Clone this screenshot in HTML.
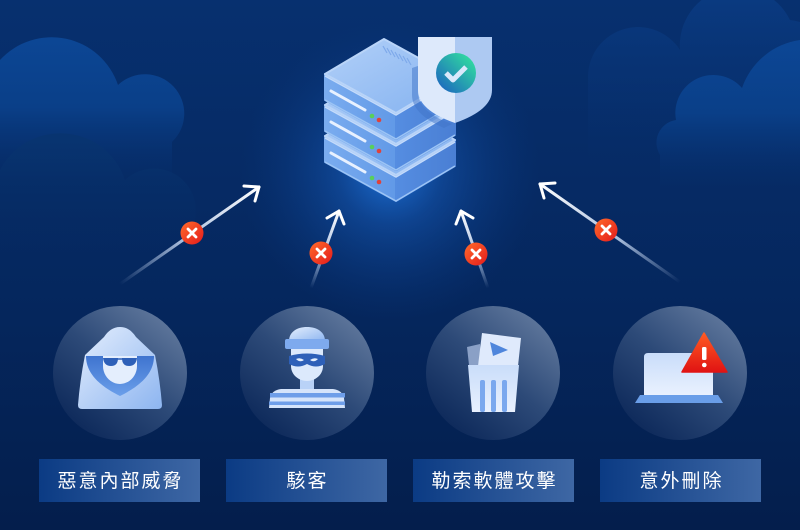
<!DOCTYPE html>
<html><head><meta charset="utf-8"><style>
html,body{margin:0;padding:0;background:#052456;}
svg{display:block;}
.lbl{font-family:"Liberation Sans","Noto Sans CJK TC",sans-serif;font-size:19px;fill:#ffffff;letter-spacing:2px;}
</style></head><body>
<svg width="800" height="530" viewBox="0 0 800 530" xmlns="http://www.w3.org/2000/svg">
<defs>
<linearGradient id="bg" x1="0" y1="0" x2="0" y2="1">
<stop offset="0" stop-color="#07306f"/><stop offset="0.55" stop-color="#05275e"/><stop offset="1" stop-color="#041e4c"/>
</linearGradient>
<radialGradient id="glow" cx="390" cy="172" r="150" gradientUnits="userSpaceOnUse">
<stop offset="0" stop-color="#1e74dc" stop-opacity="0.95"/><stop offset="0.35" stop-color="#1558b4" stop-opacity="0.55"/><stop offset="1" stop-color="#0a3a85" stop-opacity="0"/>
</radialGradient>
<linearGradient id="cloudLF" gradientUnits="userSpaceOnUse" x1="0" y1="30" x2="0" y2="185">
<stop offset="0" stop-color="#0c4796"/><stop offset="0.5" stop-color="#0a3f88"/><stop offset="1" stop-color="#07306f" stop-opacity="0"/>
</linearGradient>
<linearGradient id="cloudLB" gradientUnits="userSpaceOnUse" x1="0" y1="125" x2="0" y2="260">
<stop offset="0" stop-color="#083571"/><stop offset="1" stop-color="#062a62" stop-opacity="0"/>
</linearGradient>
<linearGradient id="cloudRF" gradientUnits="userSpaceOnUse" x1="0" y1="36" x2="0" y2="190">
<stop offset="0" stop-color="#0c4796"/><stop offset="0.5" stop-color="#0a3f88"/><stop offset="1" stop-color="#07306f" stop-opacity="0"/>
</linearGradient>
<linearGradient id="cloudRB" gradientUnits="userSpaceOnUse" x1="0" y1="0" x2="0" y2="160">
<stop offset="0" stop-color="#0a3a80"/><stop offset="1" stop-color="#07306f" stop-opacity="0"/>
</linearGradient>
<linearGradient id="circ" x1="0.85" y1="0.1" x2="0.2" y2="0.9">
<stop offset="0" stop-color="#5e769b"/><stop offset="0.5" stop-color="#2d4a78"/><stop offset="1" stop-color="#0f2b5c"/>
</linearGradient>
<linearGradient id="box" x1="0" y1="0" x2="1" y2="0">
<stop offset="0" stop-color="#0b3b84"/><stop offset="1" stop-color="#3e67a4"/>
</linearGradient>
<linearGradient id="top" x1="0" y1="0" x2="1" y2="1">
<stop offset="0" stop-color="#b2d0f8"/><stop offset="1" stop-color="#84b2f0"/>
</linearGradient>
<linearGradient id="lf" x1="0" y1="0" x2="1" y2="0">
<stop offset="0" stop-color="#7aacef"/><stop offset="1" stop-color="#6199e7"/>
</linearGradient>
<linearGradient id="rf" x1="0" y1="0" x2="1" y2="0">
<stop offset="0" stop-color="#558de1"/><stop offset="1" stop-color="#4a7fd4"/>
</linearGradient>
<linearGradient id="chk" x1="0" y1="1" x2="1" y2="0">
<stop offset="0" stop-color="#1a5bc2"/><stop offset="1" stop-color="#34eb9c"/>
</linearGradient>
<linearGradient id="red" x1="0" y1="0" x2="1" y2="1">
<stop offset="0" stop-color="#ff6b2a"/><stop offset="1" stop-color="#e41a1c"/>
</linearGradient>
<linearGradient id="tri" x1="0" y1="0" x2="0" y2="1">
<stop offset="0" stop-color="#ff5b22"/><stop offset="1" stop-color="#e01313"/>
</linearGradient>
<linearGradient id="lt" x1="0" y1="0" x2="1" y2="1">
<stop offset="0" stop-color="#e4eefd"/><stop offset="1" stop-color="#8db5f0"/>
</linearGradient>
<linearGradient id="lt2" x1="0" y1="0" x2="0" y2="1">
<stop offset="0" stop-color="#c9ddfa"/><stop offset="1" stop-color="#e9f1fe"/>
</linearGradient>
<linearGradient id="dk" x1="0" y1="0" x2="0" y2="1">
<stop offset="0" stop-color="#3f74cf"/><stop offset="1" stop-color="#6b9fea"/>
</linearGradient>
<linearGradient id="a1" gradientUnits="userSpaceOnUse" x1="120" y1="284" x2="259" y2="187">
<stop offset="0" stop-color="#c8d9f3" stop-opacity="0"/><stop offset="0.45" stop-color="#c8d9f3" stop-opacity="0.85"/><stop offset="1" stop-color="#ffffff"/>
</linearGradient>
<linearGradient id="a2" gradientUnits="userSpaceOnUse" x1="311" y1="288" x2="339" y2="211">
<stop offset="0" stop-color="#c8d9f3" stop-opacity="0"/><stop offset="0.45" stop-color="#c8d9f3" stop-opacity="0.85"/><stop offset="1" stop-color="#ffffff"/>
</linearGradient>
<linearGradient id="a3" gradientUnits="userSpaceOnUse" x1="488" y1="288" x2="461" y2="211">
<stop offset="0" stop-color="#c8d9f3" stop-opacity="0"/><stop offset="0.45" stop-color="#c8d9f3" stop-opacity="0.85"/><stop offset="1" stop-color="#ffffff"/>
</linearGradient>
<linearGradient id="a4" gradientUnits="userSpaceOnUse" x1="680" y1="282" x2="540" y2="184">
<stop offset="0" stop-color="#c8d9f3" stop-opacity="0"/><stop offset="0.45" stop-color="#c8d9f3" stop-opacity="0.85"/><stop offset="1" stop-color="#ffffff"/>
</linearGradient>
<g id="slab">
<polygon points="325,74 396,113 396,139 325,100" fill="url(#lf)" stroke="url(#lf)" stroke-width="2" stroke-linejoin="round"/>
<polygon points="396,113 455,78 455,104 396,139" fill="url(#rf)" stroke="url(#rf)" stroke-width="2" stroke-linejoin="round"/>
<polygon points="325,74 384,39 455,78 396,113" fill="url(#top)" stroke="#b9d4f8" stroke-width="2" stroke-linejoin="round"/>
<polyline points="325,76 396,115 455,80" fill="none" stroke="#c4dbfb" stroke-width="1.5"/>
<polyline points="325,100 396,139 455,104" fill="none" stroke="#9cc4f5" stroke-width="1.5"/>
<line x1="331" y1="91" x2="365" y2="110" stroke="#e8f1ff" stroke-width="3" stroke-linecap="round"/>
<circle cx="372" cy="116" r="2.3" fill="#58d05a"/>
<circle cx="379" cy="120" r="2.3" fill="#e0413a"/>
</g>
</defs>

<rect width="800" height="530" fill="url(#bg)"/>

<!-- right back cloud -->
<path d="M588,160 L588,75 A50,50 0 0 1 680,50 A58,58 0 0 1 790,20 A50,50 0 0 1 800,22 L800,160 Z" fill="url(#cloudRB)"/>
<!-- left front cloud -->
<path d="M0,190 L0,60 A70,70 0 0 1 118,85 A34,34 0 0 1 172,142 L172,190 Z" fill="url(#cloudLF)"/>
<!-- left back cloud -->
<path d="M0,260 L0,170 A68,68 0 0 1 125,180 A42,42 0 0 1 188,235 L188,260 Z" fill="url(#cloudLB)"/>
<!-- right front cloud -->
<path d="M660,190 L660,155 A23,23 0 0 1 676,120 A38,38 0 0 1 742,88 A72,72 0 0 1 800,40 L800,190 Z" fill="url(#cloudRF)"/>

<!-- glow -->
<circle cx="390" cy="172" r="150" fill="url(#glow)"/>

<!-- server -->
<use href="#slab" transform="translate(0,62)"/>
<use href="#slab" transform="translate(0,31)"/>
<use href="#slab"/>
<g stroke="#7ea9ea" stroke-width="1.2">
<line x1="383" y1="46" x2="387" y2="53"/><line x1="387" y1="48" x2="391" y2="55"/><line x1="391" y1="50" x2="395" y2="57"/><line x1="395" y1="52" x2="399" y2="59"/><line x1="399" y1="54" x2="403" y2="61"/><line x1="403" y1="56" x2="407" y2="63"/><line x1="407" y1="58" x2="411" y2="65"/>
</g>
<!-- shield shadow -->
<path d="M412,68 L418,66 L418,92 Q418,112 452,124 L444,128 Q412,114 412,95 Z" fill="#3f73c8" opacity="0.5"/>
<!-- shield -->
<path d="M418,37 L455,37 L455,123 Q418,110 418,90 Z" fill="#dde9fb"/>
<path d="M455,37 L492,37 L492,90 Q492,110 455,123 Z" fill="#adc9f2"/>
<circle cx="456" cy="73" r="20" fill="url(#chk)"/>
<polyline points="446,73 453,80 466,67" fill="none" stroke="#d9e8fb" stroke-width="5" stroke-linejoin="round"/>

<!-- arrows -->
<g fill="none" stroke-width="3" stroke-linecap="round" stroke-linejoin="round">
<line x1="120" y1="284" x2="259" y2="187" stroke="url(#a1)"/>
<polyline points="244,186 259,187 255,201" stroke="#ffffff"/>
<line x1="311" y1="288" x2="339" y2="211" stroke="url(#a2)"/>
<polyline points="327,218 339,211 344,224" stroke="#ffffff"/>
<line x1="488" y1="288" x2="461" y2="211" stroke="url(#a3)"/>
<polyline points="456,224 461,211 473,218" stroke="#ffffff"/>
<line x1="680" y1="282" x2="540" y2="184" stroke="url(#a4)"/>
<polyline points="544,198 540,184 555,183" stroke="#ffffff"/>
</g>
<!-- badges -->
<g>
<circle cx="192" cy="233" r="11.5" fill="url(#red)"/>
<circle cx="321" cy="253" r="11.5" fill="url(#red)"/>
<circle cx="476" cy="254" r="11.5" fill="url(#red)"/>
<circle cx="606" cy="230" r="11.5" fill="url(#red)"/>
</g>
<g stroke="#ffffff" stroke-width="2.8" stroke-linecap="round">
<path d="M188,229 L196,237 M196,229 L188,237"/>
<path d="M317,249 L325,257 M325,249 L317,257"/>
<path d="M472,250 L480,258 M480,250 L472,258"/>
<path d="M602,226 L610,234 M610,226 L602,234"/>
</g>

<!-- circles -->
<circle cx="120" cy="373" r="67" fill="url(#circ)"/>
<circle cx="307" cy="373" r="67" fill="url(#circ)"/>
<circle cx="493" cy="373" r="67" fill="url(#circ)"/>
<circle cx="680" cy="373" r="67" fill="url(#circ)"/>

<!-- icon 1 hooded -->
<path d="M120,327 C113,327 108,331 104,337 L85,355 Q80,380 78,405 Q78,409 82,409 L158,409 Q162,409 162,405 Q160,380 155,355 L136,337 C132,331 127,327 120,327 Z" fill="url(#lt)"/>
<path d="M86,356 L154,356 C154,376 136,388 120,396 C104,388 86,376 86,356 Z" fill="url(#dk)"/>
<path d="M103,356 L137,356 L137,366 C137,376 129,384 120,384 C111,384 103,376 103,366 Z" fill="#e4eefd"/>
<path d="M103,358 L118,358 Q118,366 111,366 Q104,366 103,358 Z M122,358 L137,358 Q136,366 129,366 Q122,366 122,358 Z" fill="#2e60b8"/>
<line x1="117" y1="359" x2="123" y2="359" stroke="#2e60b8" stroke-width="1.5"/>

<!-- icon 2 burglar -->
<path d="M289,341 C289,332 297,327 307,327 C317,327 325,332 325,341 Z" fill="url(#lt)"/>
<rect x="285" y="339" width="44" height="10" rx="2" fill="#7eaaee"/>
<rect x="300" y="378" width="14" height="12" fill="#b9d2f7"/>
<path d="M291,349 L323,349 L323,366 C323,375 315,381 307,381 C299,381 291,375 291,366 Z" fill="#dce9fc"/>
<path d="M289,356 Q307,351 325,356 L325,364 Q316,369 307,364 Q298,369 289,364 Z" fill="#2e60b8"/>
<path d="M296,359 Q300,357 304,360 Q300,363 296,359 Z M318,359 Q314,357 310,360 Q314,363 318,359 Z" fill="#e4eefd"/>
<path d="M281,389 L333,389 Q342,390 344,398 L345,408 L269,408 L270,398 Q272,390 281,389 Z" fill="#d5e4fb"/>
<rect x="270" y="393" width="75" height="4.5" fill="#6e9ee9"/>
<rect x="269" y="401.5" width="76" height="3.5" fill="#6e9ee9"/>

<!-- icon 3 trash -->
<polygon points="467,347 480,344 482,365 469,365" fill="#8aa0c6"/>
<polygon points="482,333 521,338 518,366 478,366" fill="#dfeafc"/>
<polygon points="490,342 508,350 493,356" fill="#4f86dc"/>
<polygon points="468,365 519,365 515,412 472,412" fill="url(#lt2)"/>
<rect x="480" y="380" width="5" height="32" rx="2" fill="#7aa8ee"/>
<rect x="491" y="380" width="5" height="32" rx="2" fill="#7aa8ee"/>
<rect x="502" y="380" width="5" height="32" rx="2" fill="#7aa8ee"/>

<!-- icon 4 laptop -->
<path d="M644,357 Q644,353 648,353 L709,353 Q713,353 713,357 L713,395 L644,395 Z" fill="url(#lt2)"/>
<polygon points="640,395 718,395 723,403 635,403" fill="#6a9ee8"/>
<path d="M704,333 L727,372 L682,372 Z" fill="url(#tri)" stroke="url(#tri)" stroke-width="1.5" stroke-linejoin="round"/>
<rect x="702" y="347" width="4.5" height="13" rx="1.5" fill="#ffffff"/>
<circle cx="704.3" cy="365" r="2.3" fill="#ffffff"/>

<!-- label boxes -->
<rect x="39" y="459" width="161" height="43" fill="url(#box)"/>
<rect x="226" y="459" width="161" height="43" fill="url(#box)"/>
<rect x="413" y="459" width="161" height="43" fill="url(#box)"/>
<rect x="600" y="459" width="161" height="43" fill="url(#box)"/>
<text class="lbl" x="120.5" y="487" text-anchor="middle">惡意內部威脅</text>
<text class="lbl" x="307.5" y="487" text-anchor="middle">駭客</text>
<text class="lbl" x="494.5" y="487" text-anchor="middle">勒索軟體攻擊</text>
<text class="lbl" x="681.5" y="487" text-anchor="middle">意外刪除</text>
</svg>
</body></html>
